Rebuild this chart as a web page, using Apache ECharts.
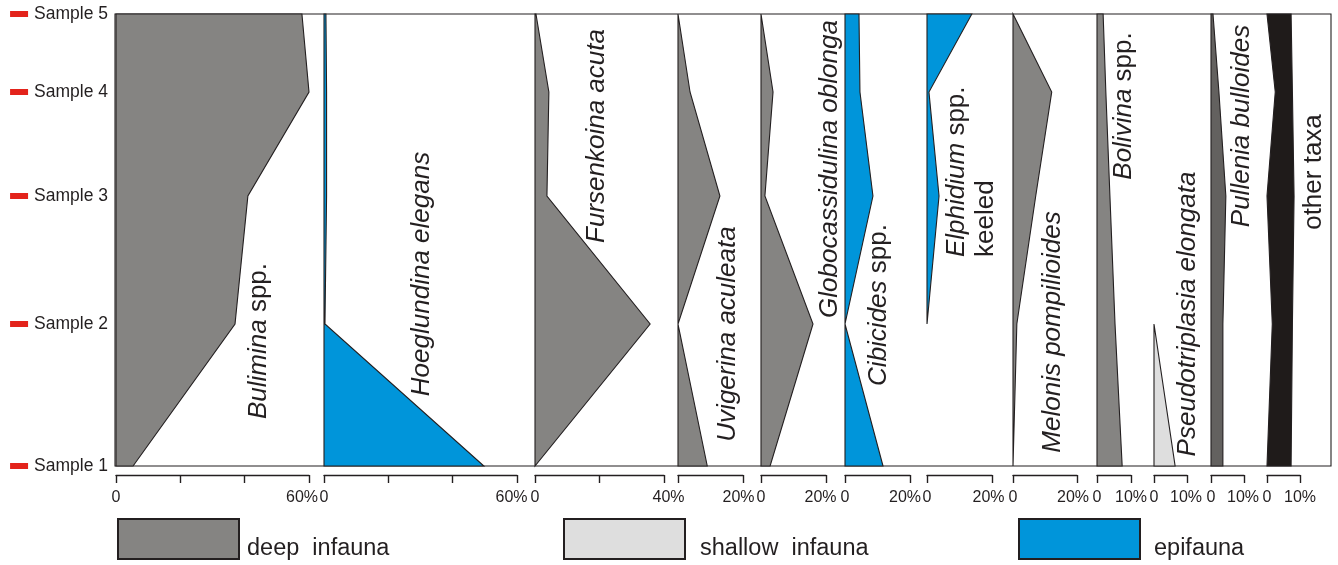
<!DOCTYPE html>
<html><head><meta charset="utf-8">
<script src="https://cdn.jsdelivr.net/npm/echarts@6/dist/echarts.min.js"></script>
<style>html,body{margin:0;padding:0;background:#fff}#c{width:1338px;height:565px}</style>
</head><body><div id="c"></div>
<script>
// ---------- data ----------
const samples = ['Sample 1', 'Sample 2', 'Sample 3', 'Sample 4', 'Sample 5'];
const samplePos = [452, 310, 182, 78, 0];          // position along the section (top = 0)

// relative abundance (%) per sample (Sample 1 .. Sample 5); null = absent
const bulimina        = [5.3, 37.0, 41.0, 60.0, 57.8];
const hoeglundina     = [49.7, 0.3, 0.8, 0.8, 0.6];
const fursenkoina     = [0, 35.7, 3.7, 4.3, 0.3];
const uvigerina       = [9.0, 0, 12.9, 3.7, 0];
const globocassidulina= [2.8, 16.0, 1.2, 3.7, 0];
const cibicides       = [11.7, 0, 8.6, 4.6, 4.3];
const elphidium       = [null, 0, 3.7, 0.6, 13.8];
const melonis         = [0, 1.2, 7.1, 12.1, 0];
const bolivina        = [7.4, 5.3, 3.8, 2.6, 1.8];
const pseudotriplasia = [6.4, 0, null, null, null];
const pullenia        = [3.6, 3.6, 4.5, 2.4, 0.6];
const otherTaxaLow    = [0, 1.6, 0, 2.5, 0];
const otherTaxaHigh   = [7.3, 7.7, 8.2, 7.7, 7.3];

const axisMax  = [60, 60, 40, 20, 20, 20, 20, 20, 10, 10, 10, 10];
const axisStep = [20, 20, 20, 20, 20, 20, 20, 20, 10, 10, 10, 10];
const legendNames = ['deep infauna', 'shallow infauna', 'epifauna'];

// ---------- styles / layout ----------
const FONT = "'Liberation Sans', Arial, sans-serif";
const INK = '#231f20';
const colors = { deep: '#858482', shallow: '#dedede', epi: '#0095da', pullenia: '#63615f', other: '#1f1b1a' };

const panels = [
  { name: 'Bulimina spp.',            right: bulimina,         color: colors.deep },
  { name: 'Hoeglundina elegans',      right: hoeglundina,      color: colors.epi },
  { name: 'Fursenkoina acuta',        right: fursenkoina,      color: colors.deep },
  { name: 'Uvigerina aculeata',       right: uvigerina,        color: colors.deep },
  { name: 'Globocassidulina oblonga', right: globocassidulina, color: colors.deep },
  { name: 'Cibicides spp.',           right: cibicides,        color: colors.epi },
  { name: 'Elphidium spp. keeled',    right: elphidium,        color: colors.epi },
  { name: 'Melonis pompilioides',     right: melonis,          color: colors.deep },
  { name: 'Bolivina spp.',            right: bolivina,         color: colors.deep },
  { name: 'Pseudotriplasia elongata', right: pseudotriplasia,  color: colors.shallow },
  { name: 'Pullenia bulloides',       right: pullenia,         color: colors.pullenia },
  { name: 'other taxa',               right: otherTaxaHigh, left: otherTaxaLow, color: colors.other }
];
const panelLeft  = [116, 324, 535, 678, 761, 845, 927, 1013, 1097, 1154, 1211, 1267];
const panelWidth = [193, 193, 129, 65, 65, 65, 65, 64, 34, 33, 33, 33];
const maxLabelNudge = [-7, -5.5, 4.5, -4.5, -5.5, -5, -3.5, -4, 0, -1, -1, 0];
const PLOT_TOP = 14, PLOT_H = 452;
const TICK_FS = 16;

const topDown = samplePos.map((p, i) => i).sort((a, b) => samplePos[a] - samplePos[b]);

function makeRender(p) {
  return function (params, api) {
    if (params.dataIndex !== 0) return;
    const idx = topDown.filter(i => p.right[i] !== null);
    const pts = [];
    idx.forEach(i => pts.push(api.coord([p.right[i], samplePos[i]])));
    idx.slice().reverse().forEach(i => pts.push(api.coord([p.left ? p.left[i] : 0, samplePos[i]])));
    return {
      type: 'polygon',
      shape: { points: pts },
      style: { fill: p.color, stroke: INK, lineWidth: 1.1, lineJoin: 'miter' }
    };
  };
}

const grids = [], xAxes = [], yAxes = [], series = [];
panels.forEach((p, k) => {
  grids.push({ left: panelLeft[k], top: PLOT_TOP, width: panelWidth[k], height: PLOT_H,
               containLabel: false, outerBoundsMode: 'none' });
  const nudge = maxLabelNudge[k];
  const sp = Math.abs(nudge) * 2;
  xAxes.push({
    type: 'value', gridIndex: k, min: 0, max: axisMax[k], interval: axisStep[k],
    position: 'bottom', offset: 9,
    axisLine: { show: true, onZero: false, lineStyle: { color: INK, width: 1.4 } },
    axisTick: { show: true, inside: false, length: 8, lineStyle: { color: INK, width: 1.4 } },
    splitLine: { show: false },
    axisLabel: {
      show: true, margin: 15, showMinLabel: true, showMaxLabel: true, hideOverlap: false,
      color: INK, fontFamily: FONT, fontSize: TICK_FS,
      formatter: function (v) {
        if (v === 0) return k === 3 ? '' : '0';
        if (v === axisMax[k]) {
          const t = '{v|' + v + '%}';
          if (nudge < 0) return t + '{s|}';
          if (nudge > 0) return '{s|}' + t;
          return t;
        }
        return '';
      },
      rich: {
        v: { color: INK, fontFamily: FONT, fontSize: TICK_FS },
        s: { width: sp, height: 1 }
      }
    }
  });
  yAxes.push({
    type: 'value', gridIndex: k, min: 0, max: 452, inverse: true,
    show: k === 0,
    axisLine: { show: false }, axisTick: { show: false }, splitLine: { show: false },
    axisLabel: {
      show: k === 0, margin: 8, customValues: samplePos,
      formatter: function (v) {
        const i = samplePos.indexOf(v);
        return '{m|}{g|}{t|' + samples[i] + '}';
      },
      rich: {
        m: { width: 18, height: 6, backgroundColor: '#e3231b' },
        g: { width: 6, height: 1 },
        t: { color: INK, fontFamily: FONT, fontSize: 17.5 }
      }
    }
  });
  const data = topDown.filter(i => p.right[i] !== null).map(i => [p.right[i], samplePos[i]]);
  series.push({
    type: 'custom', name: p.name, coordinateSystem: 'cartesian2d',
    xAxisIndex: k, yAxisIndex: k, data: data, encode: { x: 0, y: 1 },
    renderItem: makeRender(p), silent: true, z: 3
  });
});

// frame grid
const F = panels.length;
grids.push({ left: 115, top: PLOT_TOP, width: 1216, height: PLOT_H, show: true,
             borderColor: INK, borderWidth: 1.1, backgroundColor: 'transparent',
             containLabel: false, outerBoundsMode: 'none' });
xAxes.push({ type: 'value', gridIndex: F, show: false, min: 0, max: 1 });
yAxes.push({ type: 'value', gridIndex: F, show: false, min: 0, max: 1 });

const legendColors = [colors.deep, colors.shallow, colors.epi];
legendNames.forEach((n, i) => {
  series.push({ type: 'bar', name: n, xAxisIndex: F, yAxisIndex: F, data: [],
                itemStyle: { color: legendColors[i], borderColor: INK, borderWidth: 1 } });
});
const legendLeft = [117, 563, 1018];
const legendPad = [3, 10, 9];
const legends = legendNames.map((n, i) => ({
  data: [n], left: legendLeft[i], top: 518, padding: 0, itemGap: 0,
  orient: 'horizontal', icon: 'rect', itemWidth: 121, itemHeight: 40, selectedMode: false,
  formatter: function (name) { return '{t|' + name.replace(' ', '  ') + '}'; },
  textStyle: {
    color: INK, fontFamily: FONT, fontSize: 23.5,
    rich: { t: { color: INK, fontFamily: FONT, fontSize: 23.5, padding: [20, 0, 0, legendPad[i]] } }
  }
}));

// rotated taxon labels: [rich text, x, y, align]
const it = { fontStyle: 'italic', fontSize: 26, fontFamily: FONT, fill: INK, lineHeight: 29 };
const nm = { fontStyle: 'normal', fontSize: 26, fontFamily: FONT, fill: INK, lineHeight: 29 };
const labelDefs = [
  ['{i|Bulimina} {n|spp.}', 259, 341, 'center'],
  ['{i|Hoeglundina elegans}', 422, 274, 'center'],
  ['{i|Fursenkoina acuta}', 597, 136, 'center'],
  ['{i|Uvigerina aculeata}', 728, 334, 'center'],
  ['{i|Globocassidulina oblonga}', 830, 169, 'center'],
  ['{i|Cibicides} {n|spp.}', 879, 305, 'center'],
  ['{i|Elphidium} {n|spp.}\n{n|keeled}', 971, 257, 'left'],
  ['{i|Melonis pompilioides}', 1053, 332, 'center'],
  ['{i|Bolivina} {n|spp.}', 1124, 106, 'center'],
  ['{i|Pseudotriplasia elongata}', 1188, 314, 'center'],
  ['{i|Pullenia bulloides}', 1242, 126, 'center'],
  ['{n|other taxa}', 1314, 172, 'center']
];
const graphic = labelDefs.map(d => ({
  type: 'text', x: d[1], y: d[2], rotation: Math.PI / 2, silent: true, z: 10,
  style: {
    text: d[0], align: d[3], verticalAlign: 'middle', lineHeight: 29,
    fontSize: 26, fontFamily: FONT, fill: INK,
    rich: { i: it, n: nm }
  }
}));

const chart = echarts.init(document.getElementById('c'), null, { renderer: 'canvas' });
chart.setOption({
  animation: false,
  backgroundColor: '#ffffff',
  grid: grids, xAxis: xAxes, yAxis: yAxes,
  legend: legends, series: series, graphic: graphic
});
</script>
</body></html>
